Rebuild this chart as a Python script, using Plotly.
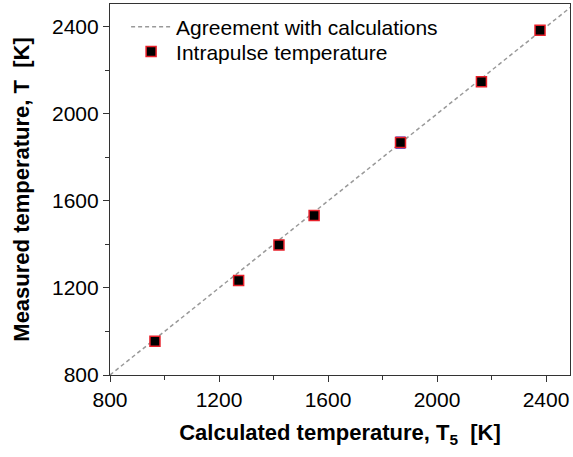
import plotly.graph_objects as go

calc_T = [965, 1272, 1420, 1549, 1866, 2163, 2378]
meas_T = [955, 1234, 1398, 1533, 1868, 2148, 2384]
err_T = [12, 15, 15, 12, 25, 15, 20]
line_x = [800, 2500]
line_y = [800, 2500]

fig = go.Figure()
fig.add_trace(go.Scatter(
    x=line_x, y=line_y, mode="lines",
    line=dict(color="#999999", width=1.5, dash="4px,3px"),
    name="Agreement with calculations", legend="legend"))
fig.add_trace(go.Scatter(
    x=calc_T, y=meas_T, mode="markers",
    marker=dict(symbol="square", size=10, color="black",
                line=dict(color="#e8202a", width=1.5)),
    error_y=dict(type="data", array=err_T, color="#2020d0", thickness=1.5, width=5),
    name="Intrapulse temperature", legend="legend2"))

axis_common = dict(
    showgrid=False, zeroline=False, showline=True, linecolor="#333333", linewidth=1.2,
    mirror=True, ticks="outside", ticklen=6, tickwidth=1.2, tickcolor="#333333",
    tickfont=dict(family="Liberation Sans, Arial", size=21, color="black"),
    minor=dict(ticks="outside", ticklen=4, tickwidth=1, tickcolor="#333333", dtick=200),
    dtick=400, tick0=800,
)

legend_common = dict(x=0.035, xanchor="left", yanchor="middle",
                     bgcolor="rgba(0,0,0,0)", borderwidth=0,
                     font=dict(family="Liberation Sans, Arial", size=21, color="black"),
                     itemwidth=40)

fig.update_layout(
    width=573, height=457,
    margin=dict(l=110, r=3, t=4, b=82),
    paper_bgcolor="white", plot_bgcolor="white",
    showlegend=True,
    legend=dict(y=0.938, **legend_common),
    legend2=dict(y=0.871, **legend_common),
    xaxis=dict(range=[800, 2488],
               title=dict(text="<b>Calculated temperature, T<sub>5</sub>  [K]</b>",
                          font=dict(family="Liberation Sans, Arial", size=22, color="black"),
                          standoff=14),
               **axis_common),
    yaxis=dict(range=[800, 2505],
               title=dict(text="<b>Measured temperature, T  [K]</b>",
                          font=dict(family="Liberation Sans, Arial", size=22, color="black"),
                          standoff=16),
               **axis_common),
)

fig.write_html("out.html")
